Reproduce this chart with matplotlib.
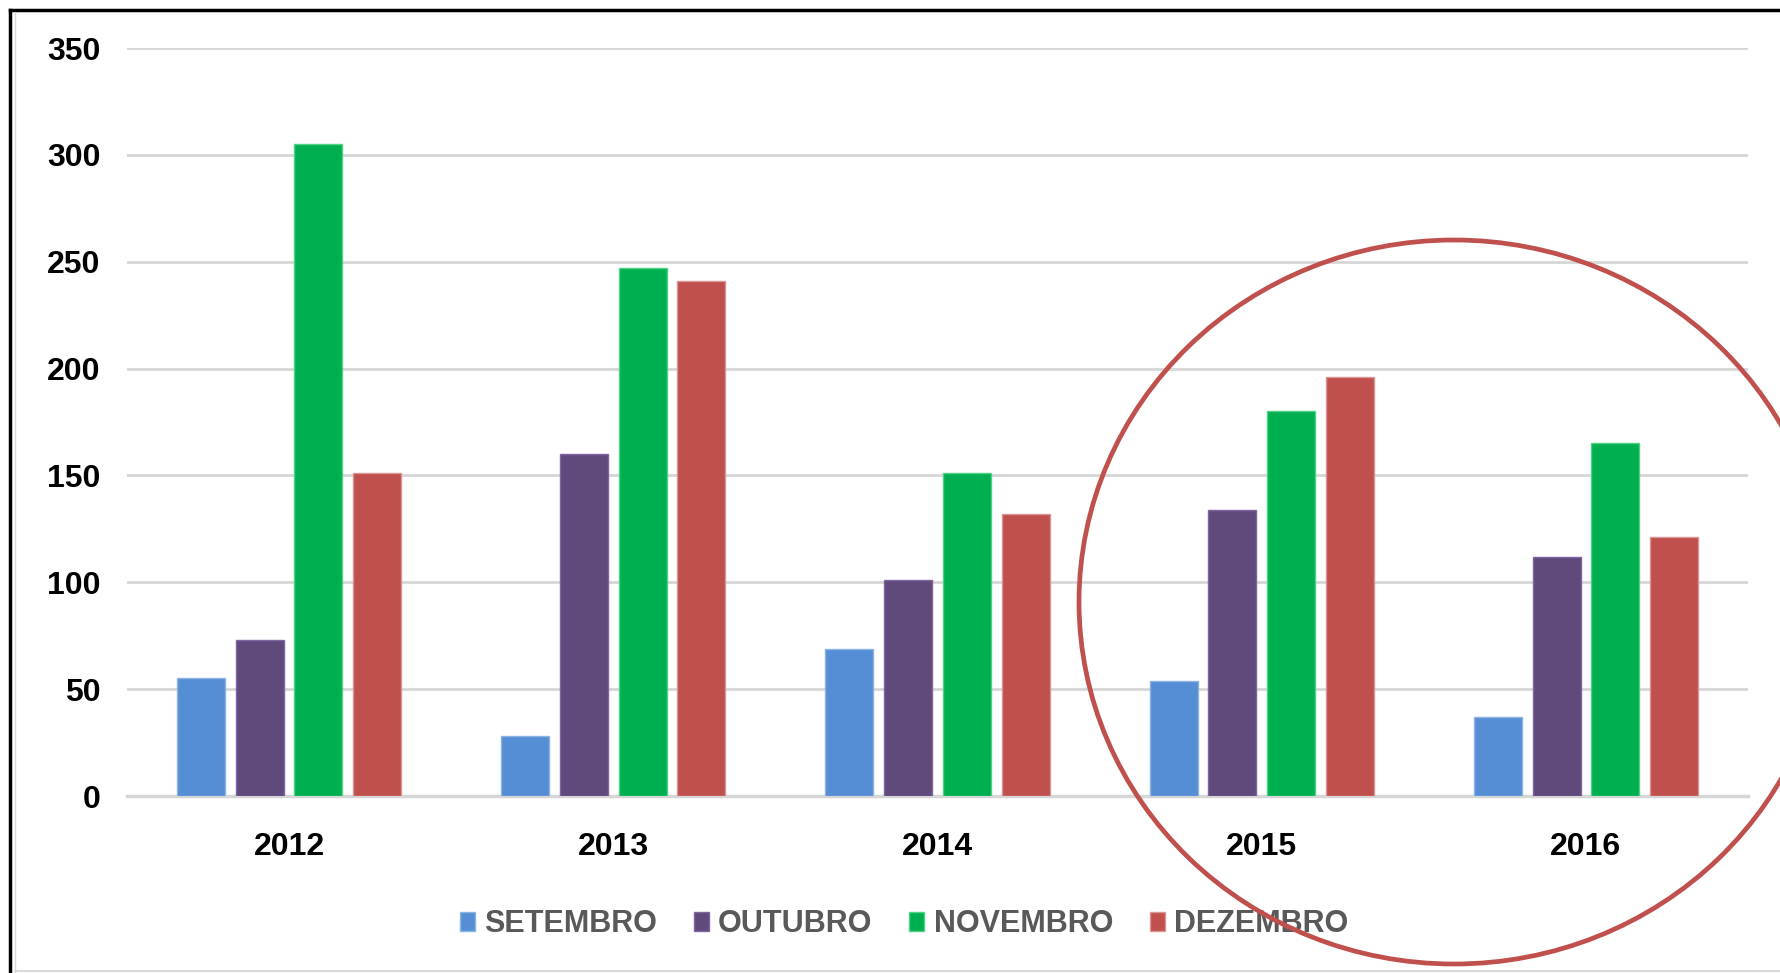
import numpy as np
from matplotlib import pyplot as plt
from matplotlib.patches import Ellipse, Patch
from matplotlib.lines import Line2D

plt.rcParams["font.family"] = ["Liberation Sans", "DejaVu Sans"]
plt.rcParams["font.weight"] = "bold"

years = ["2012", "2013", "2014", "2015", "2016"]
months = ["SETEMBRO", "OUTUBRO", "NOVEMBRO", "DEZEMBRO"]
setembro = [55, 28, 69, 54, 37]
outubro = [73, 160, 101, 134, 112]
novembro = [305, 247, 151, 180, 165]
dezembro = [151, 241, 132, 196, 121]

colors = ["#558ED5", "#604A7B", "#00B050", "#C0504D"]
edges = ["#8DB3E2", "#8064A2", "#4FD188", "#D99694"]

fig = plt.figure(figsize=(17.8, 9.73), dpi=100)
ax = fig.add_axes([127 / 1780, 1 - 796 / 973, (1748 - 127) / 1780, (796 - 48) / 973])

x = np.arange(len(years))
series = [setembro, outubro, novembro, dezembro]
step = 0.181
width = 0.148
for i, vals in enumerate(series):
    ax.bar(x + (i - 1.5) * step, vals, width, color=colors[i],
           edgecolor=edges[i], linewidth=1.0, zorder=3)

ax.set_xlim(-0.5, 4.5)
ax.set_ylim(0, 350)
ax.set_yticks(np.arange(0, 351, 50))
ax.set_xticks(x)
ax.set_xticklabels(years)
ax.yaxis.grid(True, color="#D6D6D6", linewidth=2, zorder=0)
ax.set_axisbelow(True)
for s in ["top", "right", "left"]:
    ax.spines[s].set_visible(False)
ax.spines["bottom"].set_color("#D6D6D6")
ax.spines["bottom"].set_linewidth(2.5)
ax.tick_params(axis="both", length=0, labelsize=23, colors="black")
ax.tick_params(axis="x", pad=26)
ax.tick_params(axis="y", pad=19)

handles = [Patch(facecolor=colors[i], edgecolor=edges[i], linewidth=1.0) for i in range(4)]
ax.legend(handles, months, loc="center", bbox_to_anchor=(904 / 1780, 1 - 924 / 973),
          bbox_transform=fig.transFigure, ncol=4, frameon=False,
          prop={"size": 22, "weight": "bold"}, labelcolor="#595959",
          handlelength=0.5, handleheight=0.6, handletextpad=0.3,
          columnspacing=1.2)

# frame of the screenshot
fig.add_artist(Line2D([10 / 1780, 10 / 1780], [0, 1 - 10 / 973], color="black", linewidth=2.5))
fig.add_artist(Line2D([10 / 1780, 1], [1 - 10 / 973, 1 - 10 / 973], color="black", linewidth=2.5))
fig.add_artist(Line2D([15 / 1780, 15 / 1780], [1 / 973, 1 - 13 / 973], color="#D9D9D9", linewidth=1))
fig.add_artist(Line2D([15 / 1780, 1], [1 - 971 / 973, 1 - 971 / 973], color="#D9D9D9", linewidth=1.5))

# highlight circle
fig.add_artist(Ellipse((1454 / 1780, 1 - 602 / 973), 750 / 1780, 724 / 973,
                       transform=fig.transFigure, fill=False,
                       edgecolor="#C0504D", linewidth=3.4, zorder=10))

fig.savefig("out.png", dpi=100)
